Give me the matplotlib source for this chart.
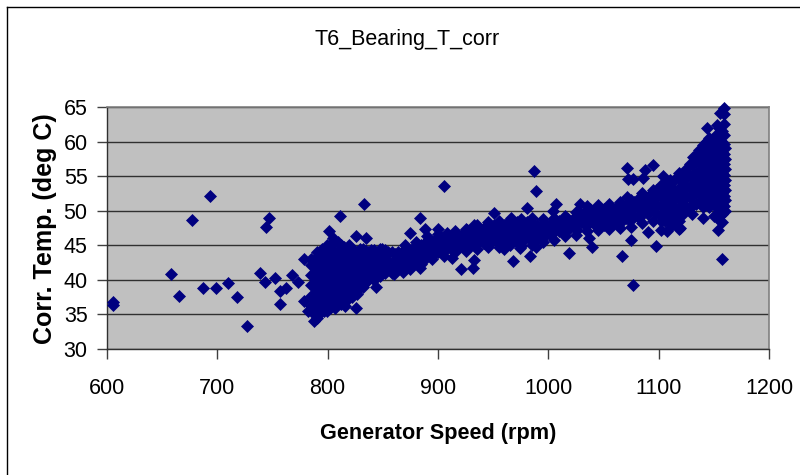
import matplotlib
matplotlib.use("Agg")
import matplotlib.pyplot as plt
from matplotlib.lines import Line2D

plt.rcParams['font.family'] = ['Liberation Sans', 'DejaVu Sans']

title = "T6_Bearing_T_corr"
x_label = "Generator Speed (rpm)"
y_label = "Corr. Temp. (deg C)"
x_ticks = [600, 700, 800, 900, 1000, 1100, 1200]
y_ticks = [30, 35, 40, 45, 50, 55, 60, 65]

outlier_speed = [605, 605, 658, 665.5, 677, 693, 686.7, 698.5, 710, 718, 727, 739, 743, 744, 747,
                 752, 757, 757, 762.5, 767.7, 773, 778.5, 779, 785, 782, 787.6, 801.5, 811, 833,
                 826, 816, 822, 843.5, 826, 834.5,
                 905, 987, 988.6, 884, 888, 875, 900, 908, 913, 921, 931.5, 932.5, 967.7, 983,
                 1018.7, 1039.6, 1037, 951, 980.6, 1006.6, 1004.5, 1029, 932.5, 926, 883.7, 974,
                 960, 989,
                 1071, 1095, 1088, 1086, 1072, 1077, 1104, 1071, 1067, 1074.7, 1076.6, 1097.6,
                 1090, 1118, 1101.7, 1108, 1154, 1157, 1157.4, 1159, 1155.6, 1159, 1159, 1144, 1153]
outlier_temp = [36.75, 36.3, 40.9, 37.7, 48.6, 52.1, 38.8, 38.8, 39.5, 37.5, 33.3, 41, 39.7, 47.6, 49,
                40.2, 38.4, 36.5, 38.8, 40.7, 39.7, 37, 43, 43, 35.5, 34, 47, 49.2, 51,
                36, 36.2, 37.9, 39, 46.4, 46,
                53.6, 55.8, 52.8, 48.9, 47.4, 46.8, 47.4, 46.8, 43.2, 41.5, 41.7, 42.8, 42.7, 43.4,
                43.9, 44.7, 46.1, 49.7, 50.4, 51, 49.9, 51, 48, 47.2, 41.7, 44.6,
                44.4, 44.8,
                56.2, 56.6, 55.9, 54.8, 54.6, 54.6, 55, 52, 43.4, 45.7, 39.2, 44.9,
                46.9, 47.4, 47.2, 47, 47.2, 43, 48.4, 64.9, 64.2, 64, 62.5, 62, 62.4]

fringe_speed = [860, 868, 875, 885, 895, 905, 915, 925, 935, 945, 955, 965, 975, 985, 995, 1005, 1015,
                1025, 1035, 1045, 1055, 1065, 1075, 1085, 1095,
                870, 880, 890, 900, 915, 925, 935, 945, 955, 975, 985, 995, 1005, 1015, 1025, 1035,
                1045, 1055, 1065, 1075, 1085, 1095, 1103, 1110, 1118,
                1104, 1108, 1112, 1116, 1119, 1112, 1120, 1124, 1116, 1130, 1140, 1150, 1156]
fringe_temp = [40.8, 41.2, 41.5, 42.3, 43, 43.5, 44, 44.2, 44.5, 44.7, 44.8, 45, 44.9, 45, 45.5, 45.8, 46.3,
               46.5, 47, 47.2, 47.3, 47.5, 47.7, 48.2, 48.5,
               45, 45.5, 46.3, 46.7, 47, 47.4, 48, 48.3, 48.5, 48.8, 49, 48.8, 49, 49.3, 49.8, 50.7,
               50.8, 51, 51.3, 51.6, 52.5, 53, 53.8, 54.5, 55.5,
               50.7, 49.5, 51, 49.7, 47.5, 48, 50.5, 52.2, 52.3, 49.5, 49, 49.3, 48.5]

band_speed = [788, 792, 797, 802, 807, 812, 817, 822, 827, 832, 837, 842, 847, 852, 858, 864, 870, 876,
              882, 888, 894, 900, 906, 912, 918, 924, 930, 936, 942, 948, 954, 960, 966, 972, 978, 984,
              990, 996, 1002, 1010, 1018, 1026, 1034, 1042, 1050, 1058, 1066, 1074, 1082, 1090, 1098,
              1106, 1114, 1122, 1128, 1134, 1140, 1146, 1152, 1157, 1160]
band_temps = [
    [35, 36.5, 38, 39.5, 41, 42.5],
    [35, 36.5, 38, 39.5, 41, 42.5, 43.5],
    [35.5, 37, 38.5, 40, 41.5, 43, 44],
    [36, 37.5, 39, 40.5, 42, 43.5, 45],
    [36, 37.5, 39, 40.5, 42, 43.5, 45.5],
    [36.5, 38, 39.5, 41, 42.5, 44, 45],
    [37, 38.5, 40, 41.5, 43, 44.5],
    [37.5, 39, 40.5, 42, 43.5, 44.5],
    [38, 39.5, 41, 42.5, 44],
    [39, 40.5, 42, 43.5, 44.5],
    [40, 41, 42.5, 44],
    [40, 41.5, 43, 44.3],
    [40.5, 42, 43.5, 44.5],
    [41, 42, 43.5, 44.3],
    [41, 42.5, 44],
    [41.5, 43, 44],
    [42, 43, 44],
    [42, 43.3, 44.5],
    [42.5, 43.7, 45],
    [43, 44.2, 45.3],
    [43.3, 44.5, 45.5],
    [44, 45, 46],
    [44.3, 45.3, 46],
    [44.5, 45.5],
    [44.6, 45.7, 46.3],
    [45, 46, 46.8],
    [45, 46, 47],
    [45.3, 46.3, 47.3],
    [45.3, 46.5, 47.5],
    [45.5, 46.7, 47.8],
    [45.5, 46.8, 47.7],
    [45.3, 46.5, 47.5, 48],
    [45.5, 46.8, 47.8, 49],
    [45.5, 46.7, 47.7, 48.3],
    [45.7, 46.9, 48],
    [45.7, 47, 48.2],
    [46, 47, 48],
    [46.2, 47.2, 48],
    [46.5, 47.5, 48.2],
    [47, 48, 48.5],
    [47.2, 48.2, 48.8],
    [47.2, 48.3, 49.2],
    [47.8, 49, 50],
    [48, 49.2, 50],
    [48, 49.2, 50.3],
    [48, 49.3, 50.3],
    [48.3, 49.5, 50.6],
    [48.5, 50, 50.8],
    [49, 50.3, 51.8],
    [49.5, 50.7, 52],
    [49.7, 51, 52.4, 53],
    [48.5, 50, 51.5, 52.8, 53.6],
    [48.5, 50, 51.5, 53, 54.5],
    [49.5, 51, 52.5, 54, 55.5],
    [50.5, 52, 53.5, 55, 56.8],
    [51, 52.5, 54, 55.5, 57, 58],
    [50.5, 52, 53.5, 55, 56.5, 58, 59.5],
    [50.5, 52, 53.5, 55, 56.5, 58, 59.5, 60.5],
    [50.5, 52, 53.5, 55, 56.5, 58, 59.5, 61],
    [49.5, 51, 52.5, 54, 55.5, 57, 58.5, 60, 61.5],
    [50, 51.5, 53, 54.5, 56, 57.5, 59],
]

between_speed = [785, 790, 794.5, 799.5, 804.5, 809.5, 814.5, 819.5, 824.5, 829.5, 834.5, 839.5, 844.5,
                 849.5, 855, 861, 867, 873, 879, 885, 891, 897, 903, 909, 915, 921, 927, 933, 939, 945,
                 951, 957, 963, 969, 975, 981, 987, 993, 999, 1006, 1014, 1022, 1030, 1038, 1046, 1054,
                 1062, 1070, 1078, 1086, 1094, 1102, 1110, 1118, 1125, 1131, 1137, 1143, 1149, 1155, 1159]
between_temps = [
    [36.2, 37.7, 39.2, 40.7, 42.2],
    [34.5, 35.7, 37.2, 38.7, 40.2, 41.7, 43.3, 44],
    [35.7, 37.2, 38.7, 40.2, 41.7, 43.2, 44.5],
    [35.5, 36.2, 37.7, 39.2, 40.7, 42.2, 43.7, 45],
    [36.7, 38.2, 39.7, 41.2, 42.7, 44.2, 46],
    [36.7, 38.2, 39.7, 41.2, 42.7, 44.2, 45.5],
    [37.2, 38.7, 40.2, 41.7, 43.2, 44.7],
    [37.7, 39.2, 40.7, 42.2, 43.7, 45],
    [38.2, 39.7, 41.2, 42.7, 44.2],
    [39, 40.2, 41.7, 43.2, 44.5],
    [39.7, 41.2, 42.7, 44.2],
    [40.5, 41.7, 43.2, 44.3],
    [40.7, 42.2, 43.7],
    [41, 42.5, 43.8, 44.5],
    [41.5, 42.7, 44],
    [41.7, 42.7, 43.7],
    [41.8, 43, 44],
    [42.5, 43.6, 44.5],
    [42.7, 43.5, 44.7],
    [43.2, 44, 45],
    [43.7, 44.7, 45.7],
    [44, 45, 45.8],
    [44.6, 45.6],
    [44.8, 45.8, 46.3],
    [45, 46],
    [45.3, 46.3],
    [45.5, 46.5],
    [45.6, 46.7],
    [45.7, 46.9],
    [46, 47.2],
    [46, 47.2, 48],
    [46, 47.2],
    [46, 47.2, 48.3],
    [46, 47.2, 48],
    [46.2, 47.4],
    [46.3, 47.5, 48.4],
    [46.5, 47.5],
    [46.5, 47.6],
    [47, 47.8],
    [47.3, 48.3],
    [47.6, 48.5],
    [47.8, 48.8],
    [48.3, 49.5],
    [48.4, 49.5, 50.2],
    [48.6, 49.7, 50.4],
    [48.7, 49.8, 50.5],
    [48.7, 49.9, 50.6],
    [49, 50.2, 50.8],
    [49.3, 50.5, 51.3],
    [49.7, 51, 52],
    [50.3, 51.5, 52.6],
    [48.5, 49.3, 50.7, 52, 53.3],
    [48.5, 49.3, 50.7, 52.2, 53.8],
    [48.5, 50.3, 51.8, 53.3, 54.8],
    [50.3, 51.8, 53.3, 54.8, 56],
    [50.8, 52.3, 53.8, 55.3, 56.8, 57.8],
    [51.3, 52.8, 54.3, 55.8, 57.3, 58.8],
    [51.3, 52.8, 54.3, 55.8, 57.3, 58.8, 60],
    [51.3, 52.8, 54.3, 55.8, 57.3, 58.8, 60.3],
    [50.3, 51.8, 53.3, 54.8, 56.3, 57.8, 59.3, 60.8, 62],
    [50.7, 52.2, 53.7, 55.2, 56.7, 58.2, 59.7, 61],
]

fig = plt.figure(figsize=(8, 4.75), dpi=100, facecolor="white")
fig.add_artist(Line2D([7 / 800, 7 / 800], [0, 1 - 7 / 475], transform=fig.transFigure, color="black", lw=1))
fig.add_artist(Line2D([7 / 800, 1], [1 - 7 / 475, 1 - 7 / 475], transform=fig.transFigure, color="black", lw=1))
ax = fig.add_axes([107 / 800, 1 - 349 / 475, 662 / 800, 242 / 475], facecolor="#C0C0C0")

marker_style = dict(linestyle="none", marker="D", markersize=6.2, color="#000080",
                    markeredgewidth=0.5, clip_on=False, zorder=3)
for speeds, temps_list in ((band_speed, band_temps), (between_speed, between_temps)):
    for speed, temps in zip(speeds, temps_list):
        ax.plot([speed] * len(temps), temps, **marker_style)
ax.plot(fringe_speed, fringe_temp, **marker_style)
ax.plot(outlier_speed, outlier_temp, **marker_style)

ax.set_xlim(600, 1200)
ax.set_ylim(30, 65)
ax.set_xticks(x_ticks)
ax.set_yticks(y_ticks)
ax.grid(axis="y", color="#303030", linewidth=1)
ax.set_axisbelow(True)
for side in ("top", "right"):
    ax.spines[side].set_color("#808080")
    ax.spines[side].set_linewidth(1.2)
for side in ("left", "bottom"):
    ax.spines[side].set_color("#303030")
    ax.spines[side].set_linewidth(1)
ax.tick_params(axis="both", length=7, width=1, color="#404040", labelsize=15.5)
ax.tick_params(axis="x", pad=14)
ax.tick_params(axis="y", pad=7)

fig.text(407 / 800, 1 - 40 / 475, title, ha="center", va="center", fontsize=15.5)
fig.text(438 / 800, 1 - 433 / 475, x_label, ha="center", va="center", fontsize=15.6, fontweight="bold")
fig.text(45 / 800, 1 - 229 / 475, y_label, ha="center", va="center", rotation=90, fontsize=18,
         fontweight="bold")

fig.savefig("out.png", dpi=100)
